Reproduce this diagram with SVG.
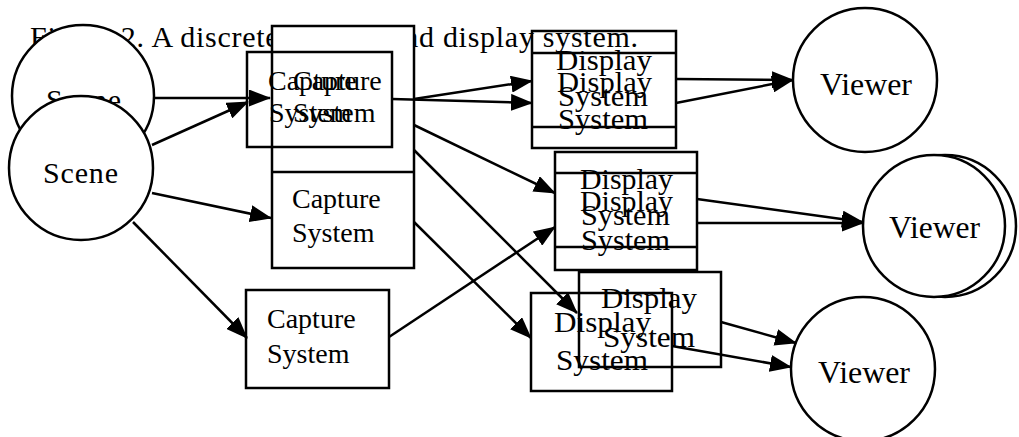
<svg xmlns="http://www.w3.org/2000/svg" width="1019" height="437" viewBox="0 0 1019 437">
<style>
  text { font-family: "Liberation Serif", "Times New Roman", serif; fill: #000; }
  .t { font-size: 28px; }
  .d { font-size: 30px; }
  .v { font-size: 32px; }
  .title { font-size: 30px; }
  .shape { stroke: #000; stroke-width: 2.5; }
  .white { fill: #fff; }
  .none { fill: none; }
  .conn line { stroke: #000; stroke-width: 2.5; marker-end: url(#arrow); }
</style>
<defs>
  <marker id="arrow" markerUnits="userSpaceOnUse" markerWidth="22" markerHeight="17" viewBox="0 0 22 17" refX="21" refY="8.5" orient="auto">
    <path d="M0,0 L22,8.5 L0,17 Z" fill="#000"/>
  </marker>
</defs>
<rect width="1019" height="437" fill="#fff"/>
<text class="title" x="30" y="47" textLength="608" lengthAdjust="spacing">Figure 2. A discrete capture and display system.</text>

<g id="scene1">
  <circle class="shape white" cx="83" cy="96" r="71"/>
  <text class="d" x="46" y="110" textLength="75">Scene</text>
</g>
<g id="scene2">
  <circle class="shape white" cx="81" cy="168" r="72"/>
  <text class="d" x="43" y="183" textLength="75">Scene</text>
</g>

<g id="capture-a">
  <rect class="shape white" x="272" y="26" width="142" height="242"/>
  <line class="shape" x1="272" y1="172" x2="414" y2="172"/>
  <text class="t" x="293" y="90">Capture</text>
  <text class="t" x="293" y="122">System</text>
</g>
<g id="capture-a2">
  <text class="t" x="292" y="208">Capture</text>
  <text class="t" x="292" y="242">System</text>
</g>
<g id="capture-b">
  <rect class="shape none" x="247" y="52" width="145" height="95"/>
  <text class="t" x="268" y="90">Capture</text>
  <text class="t" x="269" y="122">System</text>
</g>
<g id="capture-g">
  <rect class="shape none" x="246" y="290" width="143" height="98"/>
  <text class="t" x="267" y="328">Capture</text>
  <text class="t" x="267" y="363">System</text>
</g>

<g id="display-c">
  <rect class="shape none" x="532" y="31" width="144" height="117"/>
  <line class="shape" x1="532" y1="53" x2="676" y2="53"/>
  <line class="shape" x1="532" y1="127" x2="676" y2="127"/>
  <text class="d" x="556" y="70" textLength="96" lengthAdjust="spacingAndGlyphs">Display</text>
  <text class="d" x="557" y="92" textLength="95" lengthAdjust="spacingAndGlyphs">Display</text>
  <text class="d" x="558" y="106" textLength="90" lengthAdjust="spacingAndGlyphs">System</text>
  <text class="d" x="558" y="129" textLength="90" lengthAdjust="spacingAndGlyphs">System</text>
</g>
<g id="display-d">
  <rect class="shape none" x="555" y="152" width="142" height="118"/>
  <line class="shape" x1="555" y1="173" x2="697" y2="173"/>
  <line class="shape" x1="555" y1="247" x2="697" y2="247"/>
  <text class="d" x="580" y="189" textLength="93" lengthAdjust="spacingAndGlyphs">Display</text>
  <text class="d" x="580" y="211" textLength="93" lengthAdjust="spacingAndGlyphs">Display</text>
  <text class="d" x="581" y="225" textLength="89" lengthAdjust="spacingAndGlyphs">System</text>
  <text class="d" x="581" y="250" textLength="89" lengthAdjust="spacingAndGlyphs">System</text>
</g>
<g id="display-f">
  <rect class="shape none" x="579" y="272" width="142" height="95"/>
  <text class="d" x="601" y="308" textLength="96" lengthAdjust="spacingAndGlyphs">Display</text>
  <text class="d" x="603" y="347" textLength="92" lengthAdjust="spacingAndGlyphs">System</text>
</g>
<g id="display-e">
  <rect class="shape none" x="531" y="293" width="141" height="98"/>
  <text class="d" x="554" y="332" textLength="97" lengthAdjust="spacingAndGlyphs">Display</text>
  <text class="d" x="556" y="370" textLength="92" lengthAdjust="spacingAndGlyphs">System</text>
</g>

<g id="viewer1">
  <circle class="shape white" cx="865" cy="80" r="72"/>
  <text class="v" x="820" y="95" textLength="92" lengthAdjust="spacingAndGlyphs">Viewer</text>
</g>
<g id="viewer2">
  <circle class="shape white" cx="945" cy="226" r="71"/>
  <circle class="shape white" cx="934" cy="226" r="71"/>
  <text class="v" x="889" y="238" textLength="91" lengthAdjust="spacingAndGlyphs">Viewer</text>
</g>
<g id="viewer3">
  <circle class="shape white" cx="863" cy="369" r="72"/>
  <text class="v" x="818" y="383" textLength="92" lengthAdjust="spacingAndGlyphs">Viewer</text>
</g>

<g id="connectors" class="conn">
  <line x1="154" y1="98" x2="270" y2="98"/>
  <line x1="152" y1="145" x2="248" y2="102"/>
  <line x1="152" y1="193" x2="271" y2="218"/>
  <line x1="133" y1="222" x2="247" y2="338"/>
  <line x1="392" y1="99" x2="532" y2="103"/>
  <line x1="414" y1="99" x2="532" y2="81"/>
  <line x1="414" y1="125" x2="555" y2="193"/>
  <line x1="414" y1="150" x2="577" y2="313"/>
  <line x1="414" y1="222" x2="531" y2="338"/>
  <line x1="389" y1="337" x2="555" y2="227"/>
  <line x1="676" y1="79" x2="793" y2="80"/>
  <line x1="676" y1="103" x2="793" y2="80"/>
  <line x1="697" y1="199" x2="863" y2="222"/>
  <line x1="697" y1="223" x2="863" y2="223"/>
  <line x1="721" y1="322" x2="796" y2="343"/>
  <line x1="672" y1="346" x2="791" y2="367"/>
</g>
</svg>
